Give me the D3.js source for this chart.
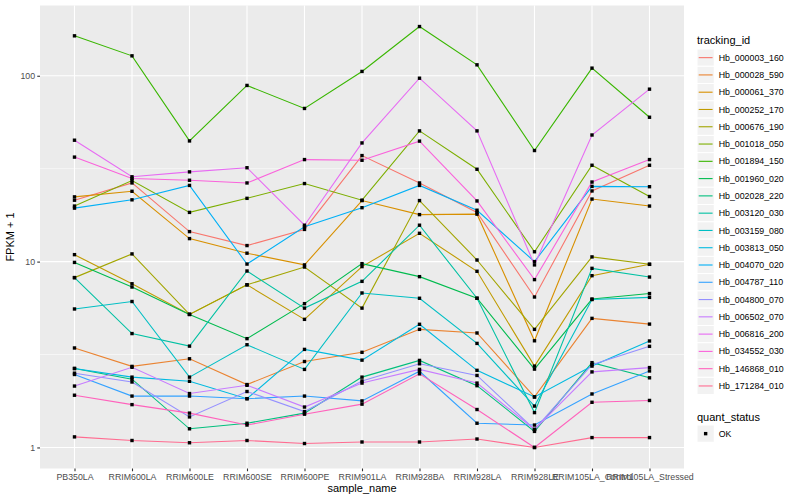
<!DOCTYPE html>
<html>
<head>
<meta charset="utf-8">
<script src="https://cdn.jsdelivr.net/npm/d3@7"></script>
<style>
  body { margin: 0; background: #fff; }
  text { font-family: "Liberation Sans", Arial, sans-serif; }
</style>
</head>
<body>
<div class="canvas"></div>
<script>
// samples on the x axis
const categories = [
  "PB350LA", "RRIM600LA", "RRIM600LE", "RRIM600SE", "RRIM600PE", "RRIM901LA",
  "RRIM928BA", "RRIM928LA", "RRIM928LE", "RRIM105LA_Control", "RRIM105LA_Stressed"
];
const trackingIds = [
  "Hb_000003_160", "Hb_000028_590", "Hb_000061_370", "Hb_000252_170", "Hb_000676_190",
  "Hb_001018_050", "Hb_001894_150", "Hb_001960_020", "Hb_002028_220", "Hb_003120_030",
  "Hb_003159_080", "Hb_003813_050", "Hb_004070_020", "Hb_004787_110", "Hb_004800_070",
  "Hb_006502_070", "Hb_006816_200", "Hb_034552_030", "Hb_146868_010", "Hb_171284_010"
];
// FPKM + 1, one row per tracking id, one value per sample
const fpkm = [
  [21.4, 26.5, 14.5, 12.2, 14.9, 37.2, 26.5, 18.4, 6.45, 24.0, 33.0],
  [3.43, 2.73, 3.0, 2.18, 2.90, 3.25, 4.32, 4.13, 1.87, 4.95, 4.61],
  [22.3, 23.9, 13.3, 11.1, 9.6, 21.3, 17.9, 18.0, 3.75, 21.7, 19.9],
  [10.9, 7.6, 5.2, 7.5, 4.89, 9.4, 14.2, 8.87, 2.74, 8.4, 9.67],
  [8.2, 11.0, 5.2, 7.5, 9.35, 5.62, 21.3, 10.2, 4.32, 10.6, 9.67],
  [19.9, 27.3, 18.4, 21.9, 26.3, 21.4, 50.5, 31.4, 11.3, 33.0, 22.4],
  [164, 128, 44.6, 88.7, 66.7, 105.5, 184, 114.5, 39.6, 109.9, 59.8],
  [9.9, 7.3, 5.2, 3.85, 5.94, 9.75, 8.3, 6.35, 2.64, 6.29, 6.73],
  [2.66, 2.33, 1.26, 1.35, 1.53, 2.39, 2.94, 2.15, 1.22, 2.86, 2.37],
  [8.2, 4.1, 3.51, 8.9, 5.62, 7.83, 15.7, 6.35, 1.54, 9.2, 8.26],
  [5.56, 6.1, 2.39, 3.57, 2.63, 6.78, 6.35, 3.63, 1.67, 6.25, 6.42],
  [2.66, 2.39, 2.27, 1.83, 3.37, 2.95, 4.6, 2.60, 1.87, 2.74, 3.74],
  [19.4, 21.5, 25.7, 9.7, 15.4, 19.5, 25.7, 18.9, 10.0, 25.4, 25.3],
  [2.47, 1.89, 1.89, 1.83, 1.89, 1.78, 2.57, 1.35, 1.32, 1.94, 2.58],
  [2.51, 2.25, 1.46, 2.0, 1.56, 2.28, 2.82, 2.44, 1.25, 2.79, 3.50],
  [2.14, 2.70, 1.95, 2.16, 1.65, 2.22, 2.63, 2.22, 1.25, 2.55, 2.69],
  [45, 28.6, 30.4, 32, 15.7, 43.5, 97, 50.5, 9.6, 48, 84.7],
  [36.5, 28.0, 27.4, 26.5, 35.4, 35.1, 44.5, 21.2, 8.0, 26.8, 35.4],
  [1.91, 1.70, 1.53, 1.32, 1.51, 1.71, 2.49, 1.60, 1.0, 1.75, 1.79],
  [1.14, 1.09, 1.06, 1.09, 1.05, 1.07, 1.07, 1.11, 1.0, 1.13, 1.13]
];
const yTicks = [1, 10, 100];
const quantStatus = ["OK"];

// ggplot hue palette for 20 levels
const palette = [
  "#F8766D", "#EA8331", "#D89000", "#C09B00", "#A3A500", "#7CAE00", "#39B600",
  "#00BB4E", "#00BF7D", "#00C1A3", "#00BFC4", "#00BAE0", "#00B0F6", "#35A2FF",
  "#9590FF", "#C77CFF", "#E76BF3", "#FA62DB", "#FF62BC", "#FF6C91"
];

const panel = { left: 40, right: 684, top: 5.5, bottom: 468.5 };

const svg = d3.select(".canvas")
  .append("svg")
  .attr("width", 800)
  .attr("height", 500)
  .style("background-color", "#fff");

const x = d3.scalePoint()
  .domain(categories)
  .range([panel.left, panel.right])
  .padding(0.6);

// log scale, expanded by 5% of the log range like ggplot
const all = fpkm.flat();
const lo = Math.log10(d3.min(all));
const hi = Math.log10(d3.max(all));
const pad = (hi - lo) * 0.05;
const y = d3.scaleLog()
  .domain([10 ** (lo - pad), 10 ** (hi + pad)])
  .range([panel.bottom, panel.top]);

const colour = d3.scaleOrdinal().domain(trackingIds).range(palette);

// panel + grid
svg.append("rect")
  .attr("x", panel.left)
  .attr("y", panel.top)
  .attr("width", panel.right - panel.left)
  .attr("height", panel.bottom - panel.top)
  .attr("fill", "#EBEBEB");

const grid = svg.append("g");
const minor = d3.pairs(yTicks).map(([a, b]) => Math.sqrt(a * b));
grid.selectAll("line.minor")
  .data(minor)
  .join("line")
  .attr("class", "minor")
  .attr("x1", panel.left)
  .attr("x2", panel.right)
  .attr("y1", (d) => y(d))
  .attr("y2", (d) => y(d))
  .attr("stroke", "#fff")
  .attr("stroke-width", 0.55);
grid.selectAll("line.major")
  .data(yTicks)
  .join("line")
  .attr("class", "major")
  .attr("x1", panel.left)
  .attr("x2", panel.right)
  .attr("y1", (d) => y(d))
  .attr("y2", (d) => y(d))
  .attr("stroke", "#fff")
  .attr("stroke-width", 1.1);
grid.selectAll("line.vx")
  .data(categories)
  .join("line")
  .attr("class", "vx")
  .attr("x1", (d) => x(d))
  .attr("x2", (d) => x(d))
  .attr("y1", panel.top)
  .attr("y2", panel.bottom)
  .attr("stroke", "#fff")
  .attr("stroke-width", 1.1);

// lines
const line = d3.line()
  .x((d, i) => x(categories[i]))
  .y((d) => y(d));

svg.append("g")
  .selectAll("path")
  .data(fpkm)
  .join("path")
  .attr("d", (d) => line(d))
  .attr("fill", "none")
  .attr("stroke", (d, i) => colour(trackingIds[i]))
  .attr("stroke-width", 1.1);

// points
const pts = [];
fpkm.forEach((row, s) => row.forEach((v, i) => pts.push({ c: categories[i], v })));
svg.append("g")
  .selectAll("rect")
  .data(pts)
  .join("rect")
  .attr("x", (d) => x(d.c) - 1.7)
  .attr("y", (d) => y(d.v) - 1.7)
  .attr("width", 3.4)
  .attr("height", 3.4)
  .attr("fill", "#000");

// axes
const xAxis = d3.axisBottom(x).tickSizeOuter(0).tickSize(2.75).tickPadding(2.5);
const gx = svg.append("g")
  .attr("transform", `translate(0,${panel.bottom})`)
  .call(xAxis);
const yAxis = d3.axisLeft(y).tickValues(yTicks).tickFormat(d3.format("d")).tickSizeOuter(0).tickSize(2.75).tickPadding(2.2);
const gy = svg.append("g")
  .attr("transform", `translate(${panel.left},0)`)
  .call(yAxis);
[gx, gy].forEach((g) => {
  g.select(".domain").remove();
  g.selectAll(".tick line").attr("stroke", "#333333").attr("stroke-width", 1.1);
  g.selectAll(".tick text")
    .attr("fill", "#4D4D4D")
    .style("font-size", "8.8px")
    .style("font-family", "Liberation Sans, Arial, sans-serif");
});

svg.append("text")
  .attr("x", (panel.left + panel.right) / 2)
  .attr("y", 492)
  .attr("text-anchor", "middle")
  .style("font-size", "11px")
  .text("sample_name");
svg.append("text")
  .attr("transform", `translate(14,${(panel.top + panel.bottom) / 2}) rotate(-90)`)
  .attr("text-anchor", "middle")
  .style("font-size", "11px")
  .text("FPKM + 1");

// legend: tracking_id
const key = 17.28;
const lg = svg.append("g").attr("transform", "translate(697,0)");
lg.append("text").attr("x", 0).attr("y", 44).style("font-size", "11px").text("tracking_id");
const items = lg.selectAll("g.item")
  .data(trackingIds)
  .join("g")
  .attr("class", "item")
  .attr("transform", (d, i) => `translate(0,${49 + i * key})`);
items.append("rect")
  .attr("width", key)
  .attr("height", key)
  .attr("fill", "#F2F2F2")
  .attr("stroke", "#fff")
  .attr("stroke-width", 1);
items.append("line")
  .attr("x1", 1.7)
  .attr("x2", key - 1.7)
  .attr("y1", key / 2)
  .attr("y2", key / 2)
  .attr("stroke", (d) => colour(d))
  .attr("stroke-width", 1.1);
items.append("text")
  .attr("x", key + 4.4)
  .attr("y", key / 2 + 3.1)
  .style("font-size", "8.8px")
  .text((d) => d);

// legend: quant_status
const lq = svg.append("g").attr("transform", "translate(697,0)");
lq.append("text").attr("x", 0).attr("y", 421).style("font-size", "11px").text("quant_status");
const q = lq.selectAll("g.q")
  .data(quantStatus)
  .join("g")
  .attr("class", "q")
  .attr("transform", (d, i) => `translate(0,${425 + i * key})`);
q.append("rect")
  .attr("width", key)
  .attr("height", key)
  .attr("fill", "#F2F2F2")
  .attr("stroke", "#fff");
q.append("rect")
  .attr("x", key / 2 - 1.7)
  .attr("y", key / 2 - 1.7)
  .attr("width", 3.4)
  .attr("height", 3.4)
  .attr("fill", "#000");
q.append("text")
  .attr("x", key + 4.4)
  .attr("y", key / 2 + 3.1)
  .style("font-size", "8.8px")
  .text((d) => d);
</script>
</body>
</html>
